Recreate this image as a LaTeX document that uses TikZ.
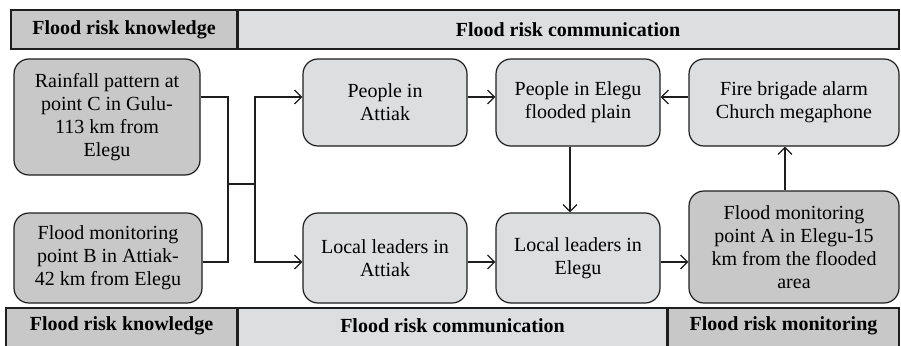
\documentclass[tikz,border=0pt]{standalone}
\usepackage{fontspec}
\setmainfont{Liberation Serif}
\usetikzlibrary{arrows.meta}
\definecolor{darkfill}{RGB}{200,200,200}
\definecolor{lightfill}{RGB}{221,222,224}
\definecolor{linec}{RGB}{30,30,30}
\begin{document}
\begin{tikzpicture}[x=1pt,y=-1pt,
  box/.style={draw=linec,line width=1.2pt,rounded corners=15pt,align=center,
    inner sep=2pt,font=\fontsize{20}{23}\selectfont},
  darkbox/.style={box,fill=darkfill},
  lightbox/.style={box,fill=lightfill},
  bar/.style={draw=linec,line width=1.3pt,inner sep=0pt,minimum height=39pt,
    font=\fontsize{20}{23}\selectfont\bfseries},
  footbar/.style={draw=linec,line width=1.3pt,inner sep=0pt,minimum height=44pt},
  foottext/.style={font=\fontsize{20}{23}\selectfont\bfseries,inner sep=0pt},
  conn/.style={draw=linec,line width=1.2pt},
  arr/.style={conn,-{Straight Barb[length=7pt,width=14pt,line width=1.2pt]}}]
\useasboundingbox (0,0) rectangle (901,345);
% header bars
\node[bar,fill=darkfill,minimum width=226pt] (hk) at (124,29.5) {Flood risk knowledge};
\node[bar,fill=lightfill,minimum width=662pt] (hc) at (568,29.5) {Flood risk communication};
% footer bars (bottom edge runs off the page)
\node[footbar,fill=darkfill,minimum width=231pt] (fk) at (121.5,330) {};
\node[footbar,fill=lightfill,minimum width=431pt] (fc) at (452.5,330) {};
\node[footbar,fill=darkfill,minimum width=231pt] (fm) at (783.5,330) {};
\node[foottext] (fkt) at (121.5,326) {Flood risk knowledge};
\node[foottext] (fct) at (452.5,326) {Flood risk communication};
\node[foottext] (fmt) at (783.5,326) {Flood risk monitoring};
\draw[linec,line width=2pt] (hk.north east) -- (hk.south east);
\draw[linec,line width=2pt] (fk.north east) -- (fk.south east);
\draw[linec,line width=2pt] (fm.north west) -- (fm.south west);
% nodes
\node[darkbox,minimum width=186pt,minimum height=116pt] (rain) at (107,117)
  {Rainfall pattern at\\point C in Gulu-\\113 km from\\Elegu};
\node[darkbox,minimum width=188pt,minimum height=90pt] (fmb) at (108,258)
  {Flood monitoring\\point B in Attiak-\\42 km from Elegu};
\node[lightbox,minimum width=164pt,minimum height=87pt] (pa) at (385,102.5)
  {People in\\Attiak};
\node[lightbox,minimum width=164pt,minimum height=87pt] (pe) at (578,102.5)
  {People in Elegu\\flooded plain};
\node[lightbox,minimum width=210pt,minimum height=87pt] (fire) at (794,102.5)
  {Fire brigade alarm\\Church megaphone};
\node[lightbox,minimum width=164pt,minimum height=90pt] (la) at (385,258)
  {Local leaders in\\Attiak};
\node[lightbox,minimum width=164pt,minimum height=90pt] (le) at (578,258)
  {Local leaders in\\Elegu};
\node[darkbox,minimum width=210pt,minimum height=112pt] (fma) at (794,247)
  {Flood monitoring\\point A in Elegu-15\\km from the flooded\\area};
% helper coordinates
\coordinate (ja) at (228,184);
\coordinate (jb) at (255,184);
\coordinate (rowA) at (255,97);
\coordinate (rowB) at (255,262);
\coordinate (colX) at (570,0);
\coordinate (colY) at (785,0);
% connectors
\draw[conn] (rain.east |- rowA) -| (ja) -- (jb);
\draw[conn] (fmb.east |- rowB) -| (ja);
\draw[arr] (jb) |- (pa.west |- rowA);
\draw[arr] (jb) |- (la.west |- rowB);
\draw[arr] (pa.east |- rowA) -- (pe.west |- rowA);
\draw[arr] (fire.west |- rowA) -- (pe.east |- rowA);
\draw[arr] (pe.south -| colX) -- (le.north -| colX);
\draw[arr] (la.east |- rowB) -- (le.west |- rowB);
\draw[arr] (le.east |- rowB) -- (fma.west |- rowB);
\draw[arr] (fma.north -| colY) -- (fire.south -| colY);
\end{tikzpicture}
\end{document}
